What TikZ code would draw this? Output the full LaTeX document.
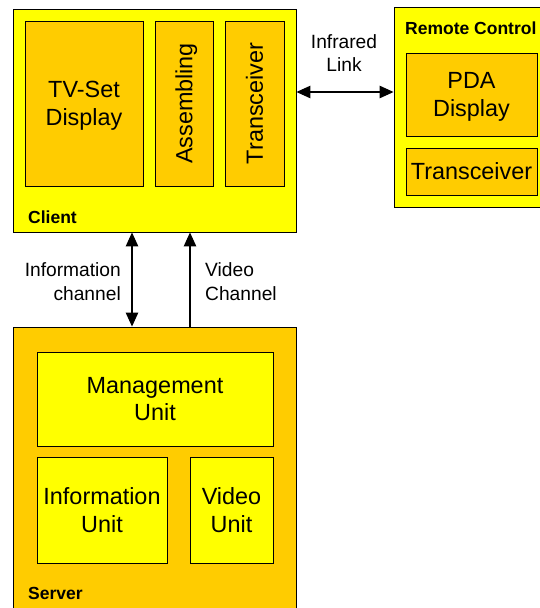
\documentclass[tikz,border=0pt]{standalone}
\usepackage{fontspec}
\setmainfont{Liberation Sans}
\usetikzlibrary{arrows.meta}
\definecolor{yel}{HTML}{FFFF00}
\definecolor{org}{HTML}{FFCC00}
\tikzset{
  box/.style={draw=black, line width=0.9pt, inner sep=0pt, anchor=center},
  ybox/.style={box, fill=yel},
  obox/.style={box, fill=org},
  big/.style={font=\fontsize{23.4}{27.7}\selectfont, align=center, text depth=0pt},
  small/.style={font=\fontsize{19.2}{23.5}\selectfont},
  title/.style={font=\fontsize{17.5}{20}\selectfont\bfseries, inner sep=0pt, anchor=base west},
  conn/.style={line width=1.1pt, -{Triangle[length=14pt,width=12.5pt]}},
  bconn/.style={line width=1.1pt, {Triangle[length=14pt,width=12.5pt]}-{Triangle[length=14pt,width=12.5pt]}}
}
\begin{document}
\begin{tikzpicture}[x=1pt,y=-1pt]
\useasboundingbox (0,0) rectangle (540,608);
\fill[white] (0,0) rectangle (540,608);
\clip (0,0) rectangle (540,608);
% outer boxes
\node[ybox, minimum width=283pt, minimum height=223pt] (client) at (154.5,120.5) {};
\node[ybox, minimum width=166pt, minimum height=200pt] (remote) at (477,107) {};
\node[obox, minimum width=283pt, minimum height=303pt] (server) at (154.5,478.5) {};
% client inner
\node[obox, big, minimum width=118pt, minimum height=165pt] (tv) at (84,103.5) {TV-Set\\Display};
\node[obox, minimum width=58pt, minimum height=165pt] (asm) at (184,103.5) {};
\node[big, rotate=90] (asmt) at (asm.center) {Assembling};
\node[obox, minimum width=59pt, minimum height=165pt] (trc) at (254.5,103.5) {};
\node[big, rotate=90] (trct) at (trc.center) {Transceiver};
\node[title] (clientl) at (28,223) {Client};
% remote inner
\node[obox, big, minimum width=131pt, minimum height=83pt] (pda) at (471.5,94.5) {PDA\\Display};
\node[obox, big, minimum width=131pt, minimum height=47pt] (trr) at (471.5,171.5) {Transceiver};
\node[title] (remotel) at (405,34) {Remote Control};
% server inner
\node[ybox, big, minimum width=236pt, minimum height=94pt] (mgmt) at (155,399) {Management\\Unit};
\node[ybox, big, minimum width=130pt, minimum height=106pt] (info) at (102,510) {Information\\Unit};
\node[ybox, big, minimum width=83pt, minimum height=106pt] (video) at (231.5,510) {Video\\Unit};
\node[title] (serverl) at (28,599) {Server};
% connectors
\coordinate (ir) at (0,92);
\coordinate (ic) at (132,0);
\coordinate (vc) at (190,0);
\draw[bconn] (ir -| client.east) -- (ir -| remote.west);
\draw[bconn] (ic |- client.south) -- (ic |- server.north);
\draw[conn] (vc |- server.north) -- (vc |- client.south);
% labels
\node[small, align=center] (irl) at (344,53) {Infrared\\Link};
\node[small, align=right, anchor=east, inner sep=0pt] (icl) at (121,281.5) {Information\\channel};
\node[small, align=left, anchor=west, inner sep=0pt] (vcl) at (205,281.5) {Video\\Channel};
\end{tikzpicture}
\end{document}
